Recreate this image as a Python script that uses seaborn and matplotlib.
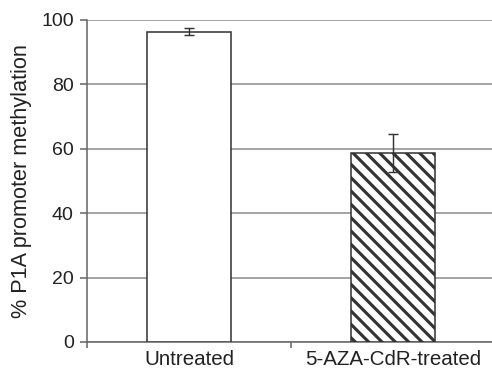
import numpy as np
import pandas as pd
import matplotlib
matplotlib.use("Agg")
import matplotlib.pyplot as plt
import seaborn as sns

sns.set_theme(style="white")
plt.rcParams['font.family'] = ['Liberation Sans', 'DejaVu Sans']
plt.rcParams['hatch.linewidth'] = 2.8
plt.rcParams['hatch.color'] = '#111111'

# -- data -- #
groups = ["Untreated", "5-AZA-CdR-treated"]
methylation = [96.4, 58.6]
err_low = [1.2, 5.8]
err_high = [1.1, 5.9]
y_ticks = [0, 20, 40, 60, 80, 100]

df = pd.DataFrame({"group": groups, "value": methylation})

dpi = 80
fig = plt.figure(figsize=(492 / dpi, 374 / dpi), dpi=dpi)
ax = fig.add_axes([87 / 492, 32 / 374, 408 / 492, 322 / 374])

sns.barplot(data=df, x="group", y="value", order=groups, errorbar=None,
            color="white", edgecolor="#333333", linewidth=1.4,
            width=0.41, ax=ax, zorder=3)
ax.patches[1].set_hatch("\\\\")
for p in ax.patches:
    p.set_facecolor("white")

ax.errorbar(range(len(groups)), methylation, yerr=[err_low, err_high],
            fmt="none", ecolor="#333333", elinewidth=1.3, capsize=4.5,
            capthick=1.3, zorder=4)

ax.set_xlim(-0.5, 1.5)
ax.set_ylim(0, 100)
ax.set_yticks(y_ticks)
ax.yaxis.grid(True, color="#8c8c8c", linewidth=1.4, zorder=0)
ax.set_axisbelow(True)

for s in ["top", "right"]:
    ax.spines[s].set_visible(False)
for s in ["left", "bottom"]:
    ax.spines[s].set_color("#666666")
    ax.spines[s].set_linewidth(1.4)

ax.set_xticks([0, 1], labels=groups)
ax.set_xticks([-0.5, 0.5], minor=True)
ax.tick_params(axis="x", which="major", length=0, pad=7, labelsize=18.5,
               colors="#222222")
ax.tick_params(axis="x", which="minor", length=5, width=1.4, color="#666666",
               direction="out", bottom=True)
ax.tick_params(axis="y", length=6, width=1.4, color="#666666", left=True,
               direction="out", pad=6, labelsize=17.5, labelcolor="#222222")

ax.set_xlabel("")
ax.set_ylabel("% P1A promoter methylation", fontsize=19.5, color="#222222")
ax.yaxis.set_label_coords(-0.135, 0.5)

fig.savefig("out.png", dpi=dpi)
plt.close()
